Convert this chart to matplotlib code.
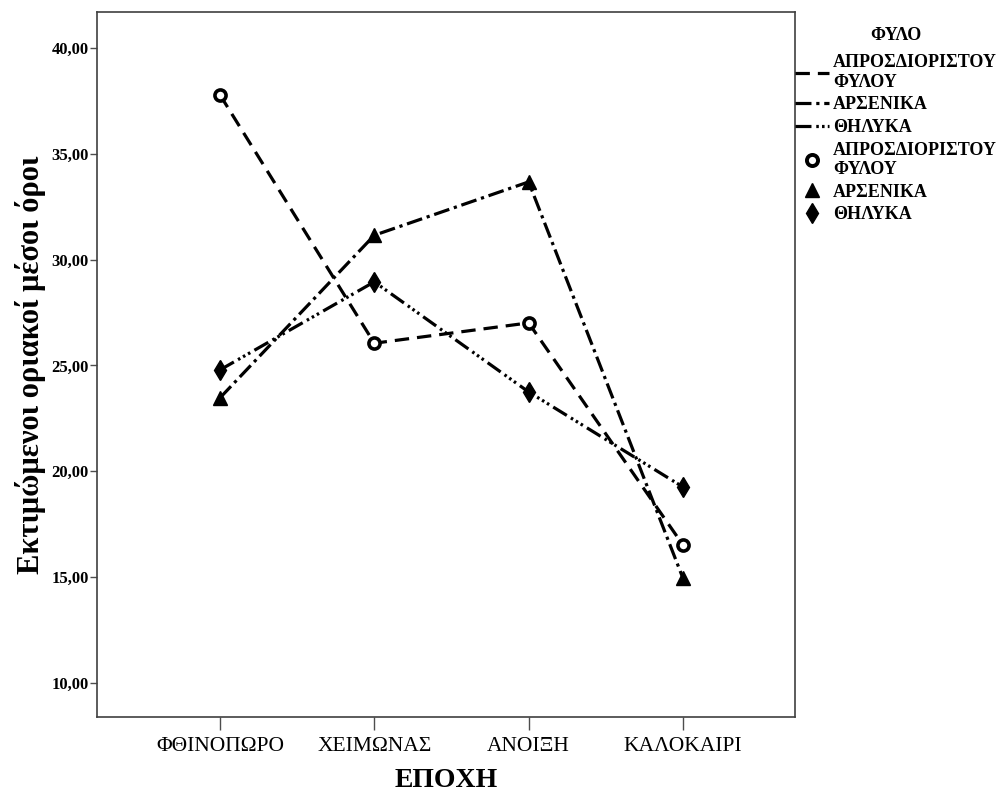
import matplotlib

matplotlib.use("Agg")
import matplotlib.pyplot as plt  # noqa: E402
from matplotlib.lines import Line2D  # noqa: E402

plt.rcParams["font.family"] = ["Liberation Serif", "DejaVu Serif"]

seasons = ["ΦΘΙΝΟΠΩΡΟ", "ΧΕΙΜΩΝΑΣ", "ΑΝΟΙΞΗ", "ΚΑΛΟΚΑΙΡΙ"]
unspecified = [37.78, 26.05, 27.01, 16.52]
male = [23.47, 31.15, 33.67, 14.95]
female = [24.79, 28.95, 23.75, 19.26]
yticks = [10, 15, 20, 25, 30, 35, 40]

# name, values, dash pattern, marker, marker size, open marker
series = [
    ("ΑΠΡΟΣΔΙΟΡΙΣΤΟΥ\nΦΥΛΟΥ", unspecified, (4.5, 2.5), "o", 8, True),
    ("ΑΡΣΕΝΙΚΑ", male, (5, 1.5, 1, 1.5), "^", 10, False),
    ("ΘΗΛΥΚΑ", female, (5, 1.5, 0.8, 1, 0.8, 1, 0.8, 1.5), "d", 10, False),
]

fig = plt.figure(figsize=(10, 7.95), dpi=100)
ax = fig.add_axes([0.097, 0.098, 0.698, 0.887])

xs = list(range(len(seasons)))
for name, vals, dash, mk, ms, hollow in series:
    ax.plot(xs, vals, color="black", lw=2.3, dashes=dash, zorder=2)
    ax.plot(xs, vals, ls="none", marker=mk, ms=ms, color="black",
            mfc=("white" if hollow else "black"), mew=(2.6 if hollow else 1), zorder=3)

ax.set_xlim(-0.797, 3.726)
ax.set_ylim(8.39, 41.70)
ax.set_xticks(xs)
ax.set_xticklabels(seasons, fontsize=15.5)
ax.set_yticks(yticks)
ax.set_yticklabels([f"{v:.2f}".replace(".", ",") for v in yticks], fontsize=12, fontweight="bold")
ax.tick_params(axis="x", length=9, width=1, color="0.3", pad=5)
ax.tick_params(axis="y", length=5, width=1, color="0.3", pad=1)
for s in ax.spines.values():
    s.set_linewidth(1.2)
    s.set_color("0.25")

ax.set_xlabel("ΕΠΟΧΗ", fontsize=20, fontweight="bold", labelpad=9)
ax.set_ylabel("Εκτιμώμενοι οριακοί μέσοι όροι", fontsize=22, fontweight="bold", labelpad=4)

handles = []
labels = []
for name, vals, dash, mk, ms, hollow in series:
    handles.append(Line2D([], [], color="black", lw=2.3, dashes=dash))
    labels.append(name)
for name, vals, dash, mk, ms, hollow in series:
    handles.append(Line2D([], [], ls="none", marker=mk, ms=ms, color="black",
                          mfc=("white" if hollow else "black"), mew=(2.8 if hollow else 1)))
    labels.append(name)

leg = ax.legend(handles, labels, loc="upper left", bbox_to_anchor=(1.0, 0.978), frameon=False,
                title="ΦΥΛΟ", handlelength=1.9, handletextpad=0.2, borderaxespad=0, borderpad=0,
                labelspacing=0.31, prop={"size": 13, "weight": "bold"},
                title_fontproperties={"size": 13, "weight": "bold"})
leg._legend_box.sep = 7

fig.savefig("out.png", dpi=100)
